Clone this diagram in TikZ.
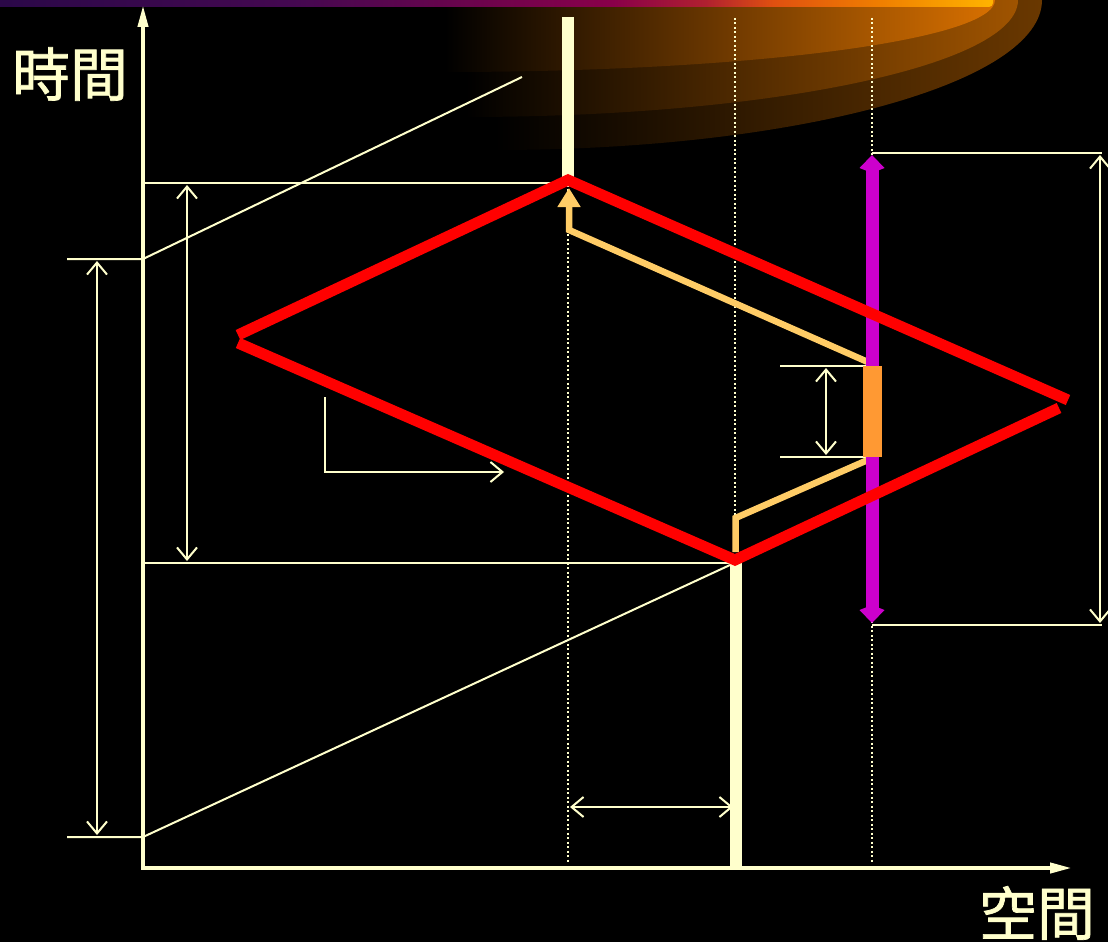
\documentclass[tikz,border=0pt]{standalone}
\usepackage{fontspec}
\newfontfamily\cjk[FakeBold=1.2]{Noto Sans CJK TC}
\usetikzlibrary{arrows.meta}
\definecolor{cream}{HTML}{FFFFCC}
\definecolor{redl}{HTML}{FF0000}
\definecolor{magl}{HTML}{CC00CC}
\definecolor{orangeR}{HTML}{FF9933}
\definecolor{lorange}{HTML}{FFCC66}
\definecolor{layA}{HTML}{D87000}
\definecolor{layB}{HTML}{A05400}
\definecolor{layC}{HTML}{6A3800}
\definecolor{barA}{HTML}{2A0848}
\definecolor{barB}{HTML}{440850}
\definecolor{barC}{HTML}{8A004A}
\definecolor{barD}{HTML}{B02030}
\definecolor{barE}{HTML}{E05010}
\definecolor{barF}{HTML}{F08000}
\definecolor{barG}{HTML}{FFB400}
\pgfdeclarehorizontalshading{barshade}{100bp}{color(0bp)=(barA); color(25bp)=(barA); color(40bp)=(barB); color(56bp)=(barC); color(60.6bp)=(barD); color(64bp)=(barE); color(69.5bp)=(barF); color(75bp)=(barG); color(100bp)=(barG)}
\begin{document}
\begin{tikzpicture}[x=1pt,y=-1pt,
  thinl/.style={cream, line width=2pt},
  dimarr/.style={thinl, {Straight Barb[length=12pt,width=20pt]}-{Straight Barb[length=12pt,width=20pt]}},
  dotl/.style={cream, line width=2.2pt, dash pattern=on 2pt off 2.5pt},
  redline/.style={redl, line width=11pt, miter limit=20},
  thick cream/.style={cream, line width=12pt},
  lor/.style={lorange, line width=6.5pt, miter limit=20},
  axis/.style={cream, line width=4pt},
  lbl/.style={cream, font=\cjk\fontsize{58}{60}\selectfont}]
\fill[black] (0,0) rectangle (1108,942);
\useasboundingbox (0,0) rectangle (1108,942);
% decorative layers
\shade[left color=black, right color=layC] (495,0) -- (495,150) .. controls (797,150) and (1042,83) .. (1042,0) -- cycle;
\shade[left color=black, right color=layB] (466,0) -- (466,117) .. controls (771,117) and (1018,65) .. (1018,0) -- cycle;
\shade[left color=black, right color=layA] (445,0) -- (445,72) .. controls (749,72) and (995,40) .. (995,0) -- cycle;
\shade[shading=barshade, rounded corners=4pt] (-6,-6) rectangle (993,7);
% coordinates
\coordinate (O) at (143,868);
\coordinate (Ttop) at (143,5);
\coordinate (Xend) at (1072,868);
\coordinate (T) at (568,180);
\coordinate (B) at (735,560);
\coordinate (L1) at (238,335);
\coordinate (L2) at (238,343);
\coordinate (R1) at (1068,400);
\coordinate (R2) at (1059,408);
% dotted lines
\draw[dotl] (568,18) -- (568,862);
\draw[dotl] (735,18) -- (735,862);
\draw[dotl] (872,18) -- (872,862);
% thin construction lines
\draw[thinl] (143,183) -- (562,183);
\draw[thinl] (143,563) -- (733,563);
\draw[thinl] (67,259) -- (143,259) -- (522,77);
\draw[thinl] (67,837) -- (143,837) -- (730,565);
\draw[thinl] (872,153) -- (1102,153);
\draw[thinl] (872,625) -- (1102,625);
\draw[thinl] (780,366) -- (868,366);
\draw[thinl] (780,457) -- (868,457);
% dimension arrows
\draw[dimarr] (187,185) -- (187,561);
\draw[dimarr] (97,261) -- (97,835);
\draw[dimarr] (1100,155) -- (1100,623);
\draw[dimarr] (826,368) -- (826,455);
\draw[dimarr] (570,807) -- (733,807);
\draw[thinl, -{Straight Barb[length=12pt,width=20pt]}] (325,397) -- (325,472) -- (504,472);
% axes
\draw[axis, -{Triangle[length=22pt,width=10pt]}] (O) -- (Ttop);
\draw[axis, -{Triangle[length=22pt,width=10pt]}] (141,868) -- (Xend);
% world lines
\draw[thick cream] (568,17) -- (568,182);
\draw[thick cream] (735.5,562) -- (735.5,866);
% light orange paths
\draw[lor, -{Triangle[length=19pt,width=22pt]}] (870,363) -- (569,230) -- (569,188);
\draw[lor] (870,459) -- (735.5,518) -- (735.5,552);
% magenta
\draw[magl, line width=13pt, {Kite[length=18pt,width=25pt,inset=5pt]}-{Kite[length=18pt,width=25pt,inset=5pt]}] (872,155) -- (872,623);
% red parallelogram
\draw[redline] (L1) -- (T) -- (R1);
\draw[redline] (L2) -- (B) -- (R2);
\fill[orangeR] (863,366) rectangle (882,457);
% labels
\node[lbl] (tl) at (70,74) {時間};
\node[lbl] (sl) at (1037,913) {空間};
\end{tikzpicture}
\end{document}
